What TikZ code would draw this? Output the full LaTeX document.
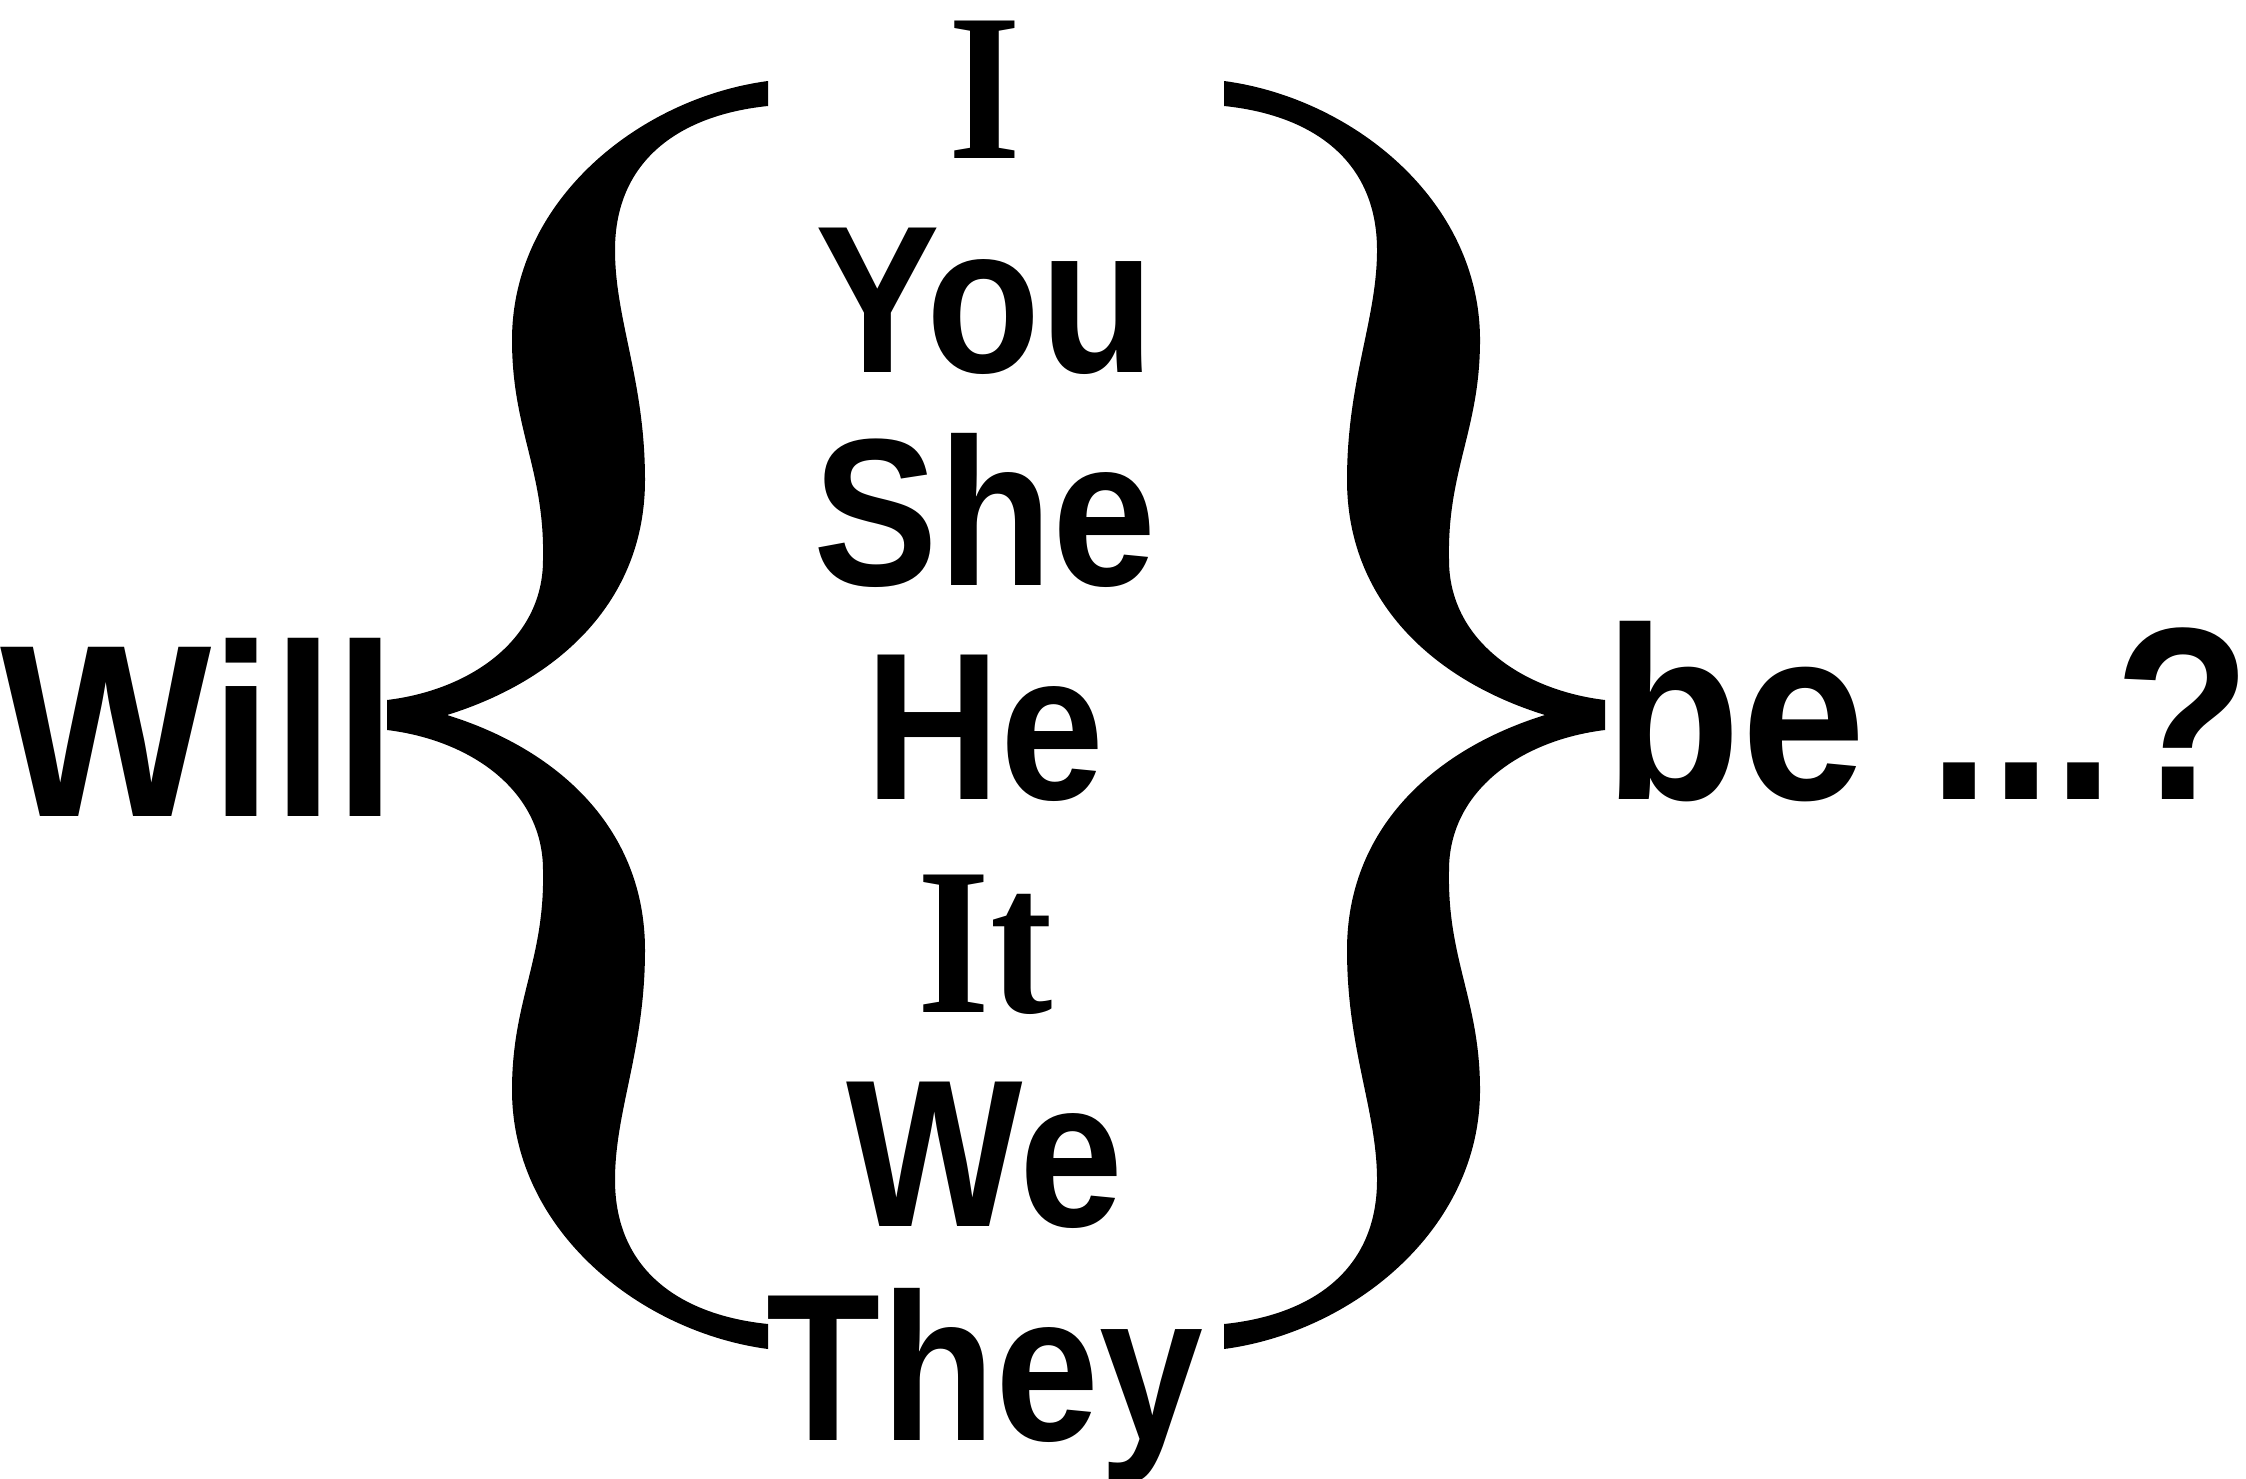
\documentclass[tikz,border=0pt]{standalone}
\usepackage{fontspec}
\usepackage{graphicx}
\usepackage{tikz}
\newfontfamily\sansword{Liberation Sans}
\newfontfamily\serifword{Liberation Serif}
\newcommand{\bigsize}{\fontsize{61.5}{61.5}\selectfont}
\newcommand{\midsize}{\fontsize{52.5}{52.5}\selectfont}
\newcommand{\narrow}[1]{\scalebox{0.89}[1]{#1}}
\newcommand{\bignarrow}[1]{\scalebox{0.91}[1]{#1}}

% one curly brace, opening to the right, tip at the left
\newcommand{\bracefill}{%
  \fill (387,700) .. controls (470,690) and (543,640) .. (543,560)
    .. controls (545,470) and (512,430) .. (512,340)
    .. controls (512,200) and (640,98) .. (768,81)
    -- (768,106)
    .. controls (680,115) and (615,160) .. (615,250)
    .. controls (615,320) and (645,380) .. (645,480)
    .. controls (645,600) and (560,680) .. (447,715)
    .. controls (560,750) and (645,830) .. (645,950)
    .. controls (645,1050) and (615,1110) .. (615,1180)
    .. controls (615,1270) and (680,1315) .. (768,1324)
    -- (768,1349)
    .. controls (640,1332) and (512,1230) .. (512,1090)
    .. controls (512,1000) and (545,960) .. (543,870)
    .. controls (543,790) and (470,740) .. (387,730)
    -- cycle;}

\tikzset{
  outer/.style={inner sep=0pt,anchor=base west,font=\sansword\bfseries\bigsize},
  pron/.style={inner sep=0pt,anchor=base,font=\sansword\bfseries\midsize},
  pronserif/.style={pron,font=\serifword\bfseries\midsize}
}

\begin{document}
\begin{tikzpicture}[x=0.25pt,y=-0.25pt]
  \useasboundingbox (0,0) rectangle (2246,1478);

  \node[outer] (will) at (0,816) {\bignarrow{Will}};
  \node[outer] (be) at (1604,799) {\bignarrow{be ...?}};

  \node[pronserif] (i)    at (985,158)  {\narrow{I}};
  \node[pron]      (you)  at (985,372)  {\narrow{You}};
  \node[pron]      (she)  at (985,585)  {\narrow{She}};
  \node[pron]      (he)   at (985,799)  {\narrow{He}};
  \node[pronserif] (it)   at (985,1012) {\narrow{It}};
  \node[pron]      (we)   at (985,1226) {\narrow{We}};
  \node[pron]      (they) at (985,1440) {\narrow{They}};

  % the two braces
  \bracefill
  \begin{scope}[shift={(1992,0)},xscale=-1]
    \bracefill
  \end{scope}
\end{tikzpicture}
\end{document}
